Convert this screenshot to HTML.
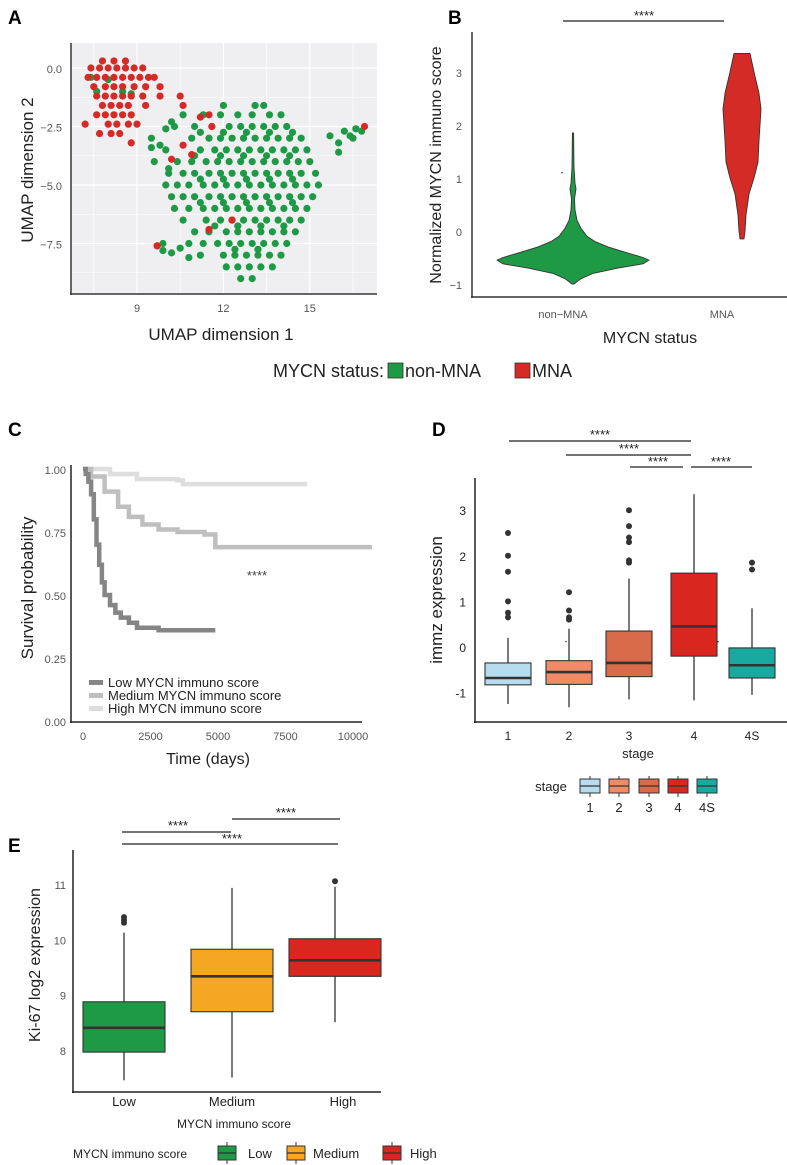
<!DOCTYPE html>
<html><head><meta charset="utf-8">
<style>
html,body{margin:0;padding:0;background:#fff;}
svg{display:block;font-family:"Liberation Sans",Arial,sans-serif;}
.tk{fill:#555;font-size:11px;}
.tkd{fill:#222;font-size:12px;}
</style></head>
<body>
<svg id="fig" width="787" height="1165" viewBox="0 0 787 1165" xmlns="http://www.w3.org/2000/svg">
<text x="8" y="24" font-size="19" font-weight="bold">A</text>
<text x="448" y="24" font-size="19" font-weight="bold">B</text>
<text x="8" y="436" font-size="19" font-weight="bold">C</text>
<text x="432" y="436" font-size="19" font-weight="bold">D</text>
<text x="8" y="852" font-size="19" font-weight="bold">E</text>

<g id="pA"></g>
<g id="pB"></g>
<g id="pC"></g>
<g id="pD"></g>
<g id="pE"></g>

<g>
<text x="273" y="377" font-size="18" fill="#222">MYCN status:</text>
<rect x="388" y="363" width="15" height="15" fill="#1e9a46" stroke="#333" stroke-width="0.8"/>
<text x="405" y="377" font-size="18" fill="#222">non-MNA</text>
<rect x="515" y="363" width="15" height="15" fill="#d42b26" stroke="#333" stroke-width="0.8"/>
<text x="532" y="377" font-size="18" fill="#222">MNA</text>
</g>
</svg>
<script>
const NS='http://www.w3.org/2000/svg';
function mk(parent,tag,attrs,txt){const e=document.createElementNS(NS,tag);for(const k in attrs)e.setAttribute(k,attrs[k]);if(txt!==undefined)e.textContent=txt;parent.appendChild(e);return e;}

/* ---------- Panel A data ---------- */
const umapGreenRows=[
[-1.6,[12.0,13.1,13.4]],
[-2.0,[10.6,11.3,11.9,12.5,13.0,13.6,14.0]],
[-2.5,[10.3,11.0,11.6,12.2,12.6,13.0,13.4,13.8,14.2]],
[-3.0,[9.5,10.9,11.5,11.9,12.3,12.7,13.1,13.5,13.9,14.3,14.7]],
[-3.5,[10.0,11.2,11.7,12.1,12.5,12.9,13.3,13.7,14.1,14.5,14.9]],
[-4.0,[9.6,10.4,10.9,11.4,11.8,12.2,12.6,13.0,13.4,13.8,14.2,14.6,15.0]],
[-4.5,[10.1,10.6,11.0,11.5,11.9,12.3,12.7,13.1,13.5,13.9,14.3,14.7,15.2]],
[-5.0,[10.0,10.4,10.8,11.3,11.7,12.1,12.5,12.9,13.3,13.7,14.1,14.5,14.9,15.3]],
[-5.5,[10.2,10.6,11.0,11.5,11.9,12.3,12.7,13.1,13.5,13.9,14.3,14.7,15.1]],
[-6.0,[10.3,10.8,11.3,11.7,12.1,12.5,12.9,13.3,13.7,14.1,14.5,14.9]],
[-6.5,[10.6,11.4,11.9,12.3,12.7,13.1,13.5,13.9,14.3,14.7]],
[-7.0,[11.0,11.5,12.1,12.5,12.9,13.3,13.7,14.1,14.5]],
[-7.5,[11.3,11.8,12.2,12.6,13.0,13.4,13.8,14.2]],
[-8.0,[11.2,12.0,12.4,12.8,13.2,13.6,14.0]],
[-8.5,[12.1,12.5,12.9,13.3,13.7]],
[-9.0,[12.6,13.0]],
[-2.75,[11.2,12.0,12.8,13.6,14.4]],
[-3.75,[11.0,11.9,12.7,13.5,14.3]],
[-4.75,[11.2,12.0,12.8,13.6,14.4]],
[-5.75,[11.2,12.0,12.8,13.6,14.4]],
[-6.75,[11.7,12.5,13.3,14.1]],
[-7.75,[12.4,13.2]]
];
const umapGreenExtra=[[9.7,-7.6],[9.9,-7.8],[10.2,-7.9],[10.5,-7.7],[9.9,-7.5],[10.8,-7.5],[10.8,-8.1],
[15.7,-2.9],[16.0,-3.2],[16.2,-2.7],[16.4,-2.9],[16.6,-2.6],[16.8,-2.7],[16.0,-3.6],[16.5,-3.0],
[10.0,-2.6],[10.2,-2.3],[9.8,-3.3],[9.5,-3.4],[10.1,-4.3],
[7.4,-0.4],[7.6,-1.0],[8.0,-0.5],[8.5,-1.0],[8.8,-1.1]];
const umapRedRows=[
[0.3,[7.8,8.2,8.6]],
[0.0,[7.4,7.7,8.0,8.3,8.6,8.9,9.2]],
[-0.4,[7.3,7.6,7.9,8.2,8.5,8.8,9.1,9.4,9.6]],
[-0.8,[7.5,7.9,8.2,8.5,8.9,9.3,9.8]],
[-1.2,[7.6,7.9,8.2,8.5,8.8,9.2,9.8]],
[-1.6,[7.8,8.1,8.4,8.7,9.3]],
[-2.0,[7.6,7.9,8.2,8.5,8.8]],
[-2.4,[7.2,8.0,8.3,8.7,9.0]],
[-2.8,[7.7,8.1,8.4]]
];
const umapRedExtra=[[8.8,-3.2],[10.5,-1.2],[10.6,-1.6],[11.2,-2.1],[11.5,-2.0],[11.6,-2.5],[10.6,-3.3],[10.9,-3.7],[10.2,-3.9],[12.3,-6.5],[11.5,-6.9],[9.7,-7.6],[16.9,-2.5]];
const umapXTicks=[9,12,15];
const umapYTicks=[0.0,-2.5,-5.0,-7.5];

/* ---------- Panel B data ---------- */
const violinGroups=['non-MNA','MNA'];
const violinGreen=[[1.85,0.6],[1.2,1],[0.9,2],[0.8,3],[0.6,1.5],[0.4,2],[0.2,4],[0.05,8],[-0.1,14],[-0.2,22],[-0.3,35],[-0.4,52],[-0.5,70],[-0.55,76],[-0.62,70],[-0.7,45],[-0.8,20],[-0.9,8],[-1.0,1]];
const violinRed=[[3.35,8],[3.0,12],[2.6,17],[2.3,19],[2.0,18],[1.7,17],[1.3,16],[1.0,12],[0.7,7],[0.3,4],[0.0,3],[-0.15,2]];
const violinYTicks=[-1,0,1,2,3];

/* ---------- Panel C data ---------- */
const survLowT=[0,100,200,300,400,500,600,700,800,1000,1200,1400,1700,2000,2800,4900];
const survLowS=[1,0.98,0.95,0.9,0.8,0.7,0.62,0.55,0.5,0.46,0.43,0.41,0.39,0.37,0.36,0.36];
const survMedT=[0,300,800,1300,1700,2200,2800,3500,4500,4900,10700];
const survMedS=[1,0.97,0.91,0.85,0.81,0.78,0.76,0.75,0.74,0.69,0.69];
const survHighT=[0,1000,2000,3500,3700,8300];
const survHighS=[1,0.98,0.96,0.955,0.94,0.94];
const survXTicks=[0,2500,5000,7500,10000];
const survYTicks=[0,0.25,0.5,0.75,1];

/* ---------- Panel D data ---------- */
const stages=['1','2','3','4','4S'];
const stageQ1=[-0.83,-0.82,-0.65,-0.2,-0.68];
const stageMed=[-0.68,-0.55,-0.35,0.45,-0.4];
const stageQ3=[-0.35,-0.3,0.35,1.62,-0.02];
const stageLo=[-1.25,-1.32,-1.15,-1.17,-1.05];
const stageHi=[0.2,0.4,1.5,3.35,0.85];
const stageOut=[[2.5,2.0,1.65,1.0,0.75,0.65],[1.2,0.8,0.65,0.6],[3.0,2.65,2.4,2.3,1.9,1.85],[],[1.85,1.7]];
const stageColors=['#b7dcef','#f08b67','#d96a4a','#d9261f','#18a9a0'];
const stageYTicks=[-1,0,1,2,3];

/* ---------- Panel E data ---------- */
const kiGroups=['Low','Medium','High'];
const kiQ1=[7.96,8.69,9.33];
const kiMed=[8.4,9.33,9.62];
const kiQ3=[8.87,9.82,10.01];
const kiLo=[7.45,7.5,8.5];
const kiHi=[10.12,10.93,10.95];
const kiOut=[[10.3,10.35,10.4],[],[11.05]];
const kiColors=['#1e9a46','#f5a623','#d9261f'];
const kiYTicks=[8,9,10,11];

/* ========== Draw A ========== */
(function(){
const g=document.getElementById('pA');
const x=v=>137+(v-9)*28.8, y=v=>68-v*23.4;
const bg=mk(g,'rect',{x:72,y:43,width:305,height:250,fill:'#efeff1'});


[7.5,10.5,13.5,16.5].forEach(v=>mk(g,'line',{x1:x(v),x2:x(v),y1:43,y2:293,stroke:'#fff','stroke-width':0.6}));
umapXTicks.forEach(v=>mk(g,'line',{x1:x(v),x2:x(v),y1:43,y2:293,stroke:'#fff','stroke-width':1.2}));
[1.25,-1.25,-3.75,-6.25,-8.75].forEach(v=>mk(g,'line',{x1:72,x2:377,y1:y(v),y2:y(v),stroke:'#fff','stroke-width':0.6}));
umapYTicks.forEach(v=>mk(g,'line',{x1:72,x2:377,y1:y(v),y2:y(v),stroke:'#fff','stroke-width':1.2}));
const dot=(px,py,c,n)=>{const e=mk(g,'circle',{cx:x(px),cy:y(py),r:3.6,fill:c});};
umapGreenRows.forEach(r=>r[1].forEach(v=>dot(v,r[0],'#1e9a46','point-non-mna')));
umapGreenExtra.forEach(p=>dot(p[0],p[1],'#1e9a46','point-non-mna'));
umapRedRows.forEach(r=>r[1].forEach(v=>dot(v,r[0],'#d42b26','point-mna')));
umapRedExtra.forEach(p=>dot(p[0],p[1],'#d42b26','point-mna'));
mk(g,'line',{x1:71,x2:71,y1:43,y2:295,stroke:'#333','stroke-width':1.5});
mk(g,'line',{x1:70,x2:377,y1:294,y2:294,stroke:'#333','stroke-width':1.5});
umapXTicks.forEach(v=>{const t=mk(g,'text',{x:x(v),y:312,'text-anchor':'middle',class:'tk'},String(v));});
umapYTicks.forEach(v=>{const t=mk(g,'text',{x:62,y:y(v)+5,'text-anchor':'end',class:'tk','font-size':'13'},v.toFixed(1).replace('-','\u2212'));});
let t=mk(g,'text',{x:221,y:340,'text-anchor':'middle','font-size':'17',fill:'#222'},'UMAP dimension 1');

t=mk(g,'text',{x:0,y:0,'text-anchor':'middle','font-size':'17',fill:'#222',transform:'translate(33,170) rotate(-90)'},'UMAP dimension 2');

})();

/* ========== Draw B ========== */
(function(){
const g=document.getElementById('pB');
const y=v=>231-v*53; const cx=[573,742];
function violin(prof,c,fill,n){
  let d='M'+cx[c]+','+y(prof[0][0]);
  prof.forEach(p=>d+=' L'+(cx[c]+p[1])+','+y(p[0]));
  prof.slice().reverse().forEach(p=>d+=' L'+(cx[c]-p[1])+','+y(p[0]));
  const e=mk(g,'path',{d:d+'Z',fill:fill,stroke:'#333','stroke-width':0.9,'stroke-linejoin':'round'});
  
}
violin(violinGreen,0,'#1e9a46','violin-non-mna');
violin(violinRed,1,'#d42b26','violin-mna');
mk(g,'circle',{cx:562,cy:y(1.1),r:0.8,fill:'#333'});
mk(g,'line',{x1:472,x2:472,y1:32,y2:298,stroke:'#333','stroke-width':1.5});
mk(g,'line',{x1:471,x2:787,y1:297,y2:297,stroke:'#333','stroke-width':1.5});
violinYTicks.forEach(v=>{const t=mk(g,'text',{x:462,y:y(v)+5,'text-anchor':'end',class:'tk','font-size':'14'},String(v).replace('-','\u2212'));});
violinGroups.forEach((s,i)=>{const t=mk(g,'text',{x:cx[i]-(i?20:10),y:318,'text-anchor':'middle',class:'tk','font-size':'12'},s.replace('-','\u2212'));});
let t=mk(g,'text',{x:650,y:343,'text-anchor':'middle','font-size':'16',fill:'#222'},'MYCN status');

t=mk(g,'text',{x:0,y:0,'text-anchor':'middle','font-size':'16',fill:'#222',transform:'translate(441,165) rotate(-90)'},'Normalized MYCN immuno score');

const s=mk(g,'line',{x1:563,x2:724,y1:21,y2:21,stroke:'#222','stroke-width':1.2});

t=mk(g,'text',{x:644,y:20,'text-anchor':'middle','font-size':'13',fill:'#222'},'****');

})();

/* ========== Draw C ========== */
(function(){
const g=document.getElementById('pC');
const x=v=>83+v*0.027, y=v=>721-v*252;
function curve(T,S,c,n){
  let d='M'+x(T[0])+','+y(S[0]);
  for(let i=1;i<T.length;i++){d+=' H'+x(T[i])+' V'+y(S[i]);}
  const e=mk(g,'path',{d:d,fill:'none',stroke:c,'stroke-width':4.5});
  
}
curve(survHighT,survHighS,'#dedede','survival-curve-high');
curve(survMedT,survMedS,'#bfbfbf','survival-curve-medium');
curve(survLowT,survLowS,'#858585','survival-curve-low');
mk(g,'line',{x1:71,x2:71,y1:465,y2:723,stroke:'#222','stroke-width':1.5});
mk(g,'line',{x1:70,x2:362,y1:722,y2:722,stroke:'#222','stroke-width':1.5});
survYTicks.forEach(v=>{const t=mk(g,'text',{x:66,y:y(v)+5,'text-anchor':'end',class:'tk','font-size':'13'},v.toFixed(2));});
survXTicks.forEach(v=>{const t=mk(g,'text',{x:x(v),y:740,'text-anchor':'middle',class:'tk','font-size':'13'},String(v));});
let t=mk(g,'text',{x:208,y:764,'text-anchor':'middle','font-size':'16',fill:'#222'},'Time (days)');

t=mk(g,'text',{x:0,y:0,'text-anchor':'middle','font-size':'17',fill:'#222',transform:'translate(33,588) rotate(-90)'},'Survival probability');

t=mk(g,'text',{x:257,y:580,'text-anchor':'middle','font-size':'13',fill:'#444'},'****');

const labs=['Low MYCN immuno score','Medium MYCN immuno score','High MYCN immuno score'];
const cols=['#858585','#bfbfbf','#dedede'];
labs.forEach((l,i)=>{
  const r=mk(g,'rect',{x:89,y:680+i*13,width:14,height:5,fill:cols[i]});
  
  const tt=mk(g,'text',{x:108,y:687+i*13,'font-size':'13',fill:'#222'},l);
  
});
})();

/* ========== Box plot helper ========== */
function boxplot(g,cx,w,y,q1,md,q3,lo,hi,out,fill,n){
  mk(g,'line',{x1:cx,x2:cx,y1:y(hi),y2:y(q3),stroke:'#333','stroke-width':1.3});
  mk(g,'line',{x1:cx,x2:cx,y1:y(q1),y2:y(lo),stroke:'#333','stroke-width':1.3});
  const b=mk(g,'rect',{x:cx-w/2,y:y(q3),width:w,height:y(q1)-y(q3),fill:fill,stroke:'#333','stroke-width':1.1});
  
  mk(g,'line',{x1:cx-w/2,x2:cx+w/2,y1:y(md),y2:y(md),stroke:'#333','stroke-width':2.6});
  out.forEach(o=>{const c=mk(g,'circle',{cx:cx,cy:y(o),r:3,fill:'#333'});});
}
function sig(g,x1,x2,yy,tx,ty){
  const s=mk(g,'line',{x1:x1,x2:x2,y1:yy,y2:yy,stroke:'#222','stroke-width':1.2});
  
  const t=mk(g,'text',{x:tx,y:ty,'text-anchor':'middle','font-size':'13',fill:'#222'},'****');
  
}

/* ========== Draw D ========== */
(function(){
const g=document.getElementById('pD');
const y=v=>647-v*45.6; const xs=[508,569,629,694,752];
stages.forEach((s,i)=>boxplot(g,xs[i],46,y,stageQ1[i],stageMed[i],stageQ3[i],stageLo[i],stageHi[i],stageOut[i],stageColors[i],'box-stage-'+s.toLowerCase()));
mk(g,'circle',{cx:566,cy:y(0.12),r:0.8,fill:'#333'});
mk(g,'circle',{cx:718,cy:y(0.12),r:0.8,fill:'#333'});
mk(g,'line',{x1:475,x2:475,y1:478,y2:723,stroke:'#222','stroke-width':1.5});
mk(g,'line',{x1:474,x2:787,y1:722,y2:722,stroke:'#222','stroke-width':1.5});
stageYTicks.forEach(v=>{const t=mk(g,'text',{x:466,y:y(v)+5,'text-anchor':'end',class:'tkd','font-size':'13'},String(v));});
stages.forEach((s,i)=>{const t=mk(g,'text',{x:xs[i],y:740,'text-anchor':'middle',class:'tkd','font-size':'13'},s);});
let t=mk(g,'text',{x:638,y:758,'text-anchor':'middle','font-size':'13',fill:'#222'},'stage');

t=mk(g,'text',{x:0,y:0,'text-anchor':'middle','font-size':'17',fill:'#222',transform:'translate(442,600) rotate(-90)'},'immz expression');

sig(g,509,691,441,600,439);
sig(g,566,691,455,629,453);
sig(g,630,683,467,658,466);
sig(g,691,752,467,721,466);
t=mk(g,'text',{x:551,y:791,'text-anchor':'middle','font-size':'13',fill:'#222'},'stage');

const lx=[590,619,649,678,707];
stages.forEach((s,i)=>{
  mk(g,'line',{x1:lx[i],x2:lx[i],y1:776,y2:797,stroke:'#333','stroke-width':1});
  const r=mk(g,'rect',{x:lx[i]-10,y:779,width:20,height:14,fill:stageColors[i],stroke:'#333','stroke-width':1});
  
  mk(g,'line',{x1:lx[i]-10,x2:lx[i]+10,y1:786,y2:786,stroke:'#333','stroke-width':1.3});
  const tt=mk(g,'text',{x:lx[i],y:812,'text-anchor':'middle','font-size':'13',fill:'#222'},s);
  
});
})();

/* ========== Draw E ========== */
(function(){
const g=document.getElementById('pE');
const y=v=>884-(v-11)*55.3; const xs=[124,232,335];
kiGroups.forEach((s,i)=>boxplot(g,xs[i],i==2?92:82,y,kiQ1[i],kiMed[i],kiQ3[i],kiLo[i],kiHi[i],kiOut[i],kiColors[i],'box-'+s.toLowerCase()));
mk(g,'line',{x1:73,x2:73,y1:850,y2:1093,stroke:'#222','stroke-width':1.5});
mk(g,'line',{x1:72,x2:381,y1:1092,y2:1092,stroke:'#222','stroke-width':1.5});
kiYTicks.forEach(v=>{const t=mk(g,'text',{x:66,y:y(v)+5,'text-anchor':'end',class:'tk','font-size':'13'},String(v));});
kiGroups.forEach((s,i)=>{const t=mk(g,'text',{x:xs[i]+(i==2?8:0),y:1106,'text-anchor':'middle',fill:'#222','font-size':'13'},s);});
let t=mk(g,'text',{x:234,y:1128,'text-anchor':'middle','font-size':'12',fill:'#222'},'MYCN immuno score');

t=mk(g,'text',{x:0,y:0,'text-anchor':'middle','font-size':'16',fill:'#222',transform:'translate(40,965) rotate(-90)'},'Ki-67 log2 expression');

sig(g,122,231,832,178,830);
sig(g,232,340,819,286,817);
sig(g,122,338,844,232,843);
t=mk(g,'text',{x:73,y:1158,'font-size':'12',fill:'#222'},'MYCN immuno score');

const lx=[227,296,392], tx=[248,313,410];
kiGroups.forEach((s,i)=>{
  mk(g,'line',{x1:lx[i],x2:lx[i],y1:1142,y2:1164,stroke:'#333','stroke-width':1});
  const r=mk(g,'rect',{x:lx[i]-9,y:1146,width:18,height:14,fill:kiColors[i],stroke:'#333','stroke-width':1});
  
  mk(g,'line',{x1:lx[i]-9,x2:lx[i]+9,y1:1153,y2:1153,stroke:'#333','stroke-width':1.3});
  const tt=mk(g,'text',{x:tx[i],y:1158,'font-size':'13',fill:'#222'},s);
  
});
})();
</script>
</body></html>
